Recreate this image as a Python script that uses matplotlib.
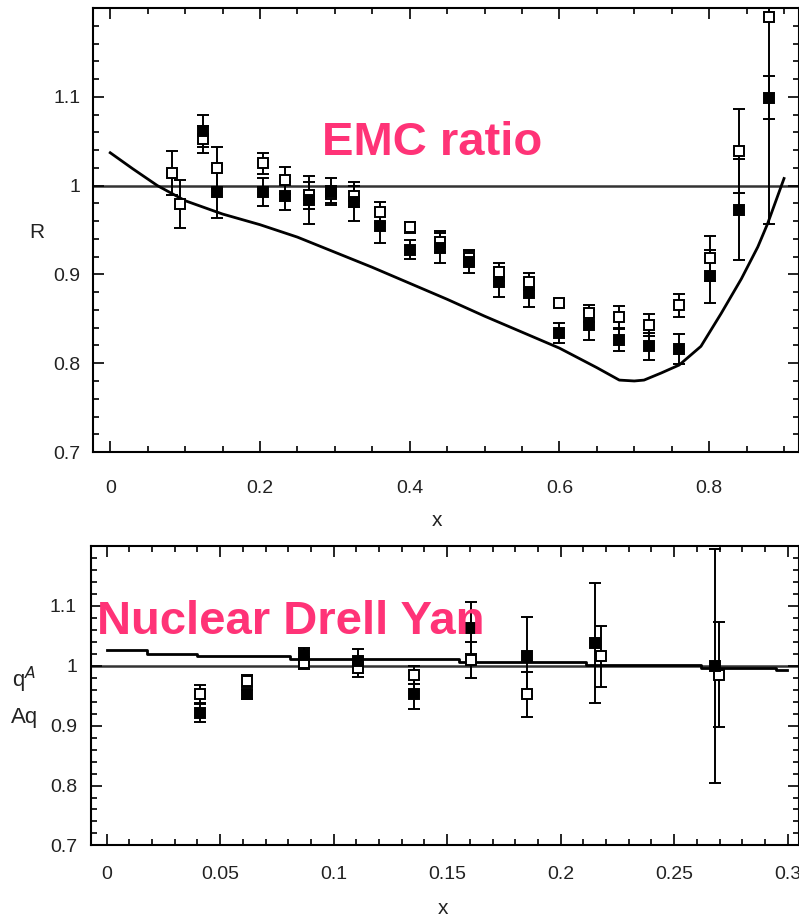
import matplotlib
matplotlib.use("Agg")
import matplotlib.pyplot as plt
from matplotlib.ticker import MultipleLocator, FixedLocator

plt.rcParams['font.family'] = ['Liberation Sans', 'DejaVu Sans']

PINK = '#ff3377'

# EMC ratio: open squares
emc_open_x = [0.082, 0.093, 0.124, 0.143, 0.2045, 0.234, 0.265, 0.295, 0.325, 0.360,
              0.400, 0.440, 0.479, 0.519, 0.559, 0.600, 0.640, 0.680, 0.720, 0.760,
              0.801, 0.840, 0.880]
emc_open_y = [1.014, 0.979, 1.052, 1.020, 1.025, 1.006, 0.989, 0.990, 0.988, 0.970,
              0.953, 0.937, 0.919, 0.903, 0.892, 0.868, 0.856, 0.852, 0.843, 0.865,
              0.918, 1.039, 1.190]
emc_open_err = [0.025, 0.027, 0.015, 0.024, 0.012, 0.015, 0.015, 0.010, 0.012, 0.012,
                0.006, 0.012, 0.008, 0.010, 0.010, 0.004, 0.010, 0.012, 0.012, 0.013,
                0.025, 0.047, 0.233]

# EMC ratio: filled squares
emc_fill_x = [0.124, 0.143, 0.2045, 0.234, 0.265, 0.295, 0.325, 0.360, 0.400, 0.440,
              0.479, 0.519, 0.559, 0.600, 0.640, 0.680, 0.720, 0.760, 0.801, 0.840,
              0.880]
emc_fill_y = [1.061, 0.993, 0.993, 0.988, 0.984, 0.993, 0.982, 0.955, 0.928, 0.930,
              0.914, 0.891, 0.879, 0.834, 0.843, 0.826, 0.819, 0.816, 0.898, 0.973,
              1.099]
emc_fill_err = [0.018, 0.030, 0.016, 0.016, 0.027, 0.015, 0.022, 0.020, 0.011, 0.017,
                0.012, 0.017, 0.016, 0.011, 0.017, 0.012, 0.015, 0.017, 0.030, 0.057,
                0.024]

# EMC model curve
emc_curve_x = [0.0, 0.03, 0.063, 0.1, 0.15, 0.2, 0.25, 0.3, 0.35, 0.4, 0.45, 0.5,
               0.55, 0.6, 0.65, 0.68, 0.70, 0.713, 0.736, 0.76, 0.789, 0.816,
               0.843, 0.865, 0.878, 0.9]
emc_curve_y = [1.037, 1.019, 1.000, 0.983, 0.968, 0.956, 0.942, 0.925, 0.908, 0.890,
               0.872, 0.853, 0.835, 0.817, 0.795, 0.781, 0.780, 0.781, 0.789, 0.798,
               0.819, 0.856, 0.895, 0.931, 0.957, 1.008]

# Drell-Yan: open squares
dy_open_x = [0.0412, 0.062, 0.0868, 0.1106, 0.1353, 0.1603, 0.1853, 0.2177, 0.2699]
dy_open_y = [0.952, 0.974, 1.004, 0.996, 0.984, 1.010, 0.952, 1.0155, 0.985]
dy_open_err = [0.015, 0.010, 0.010, 0.015, 0.015, 0.030, 0.038, 0.051, 0.088]

# Drell-Yan: filled squares
dy_fill_x = [0.0412, 0.062, 0.0868, 0.1106, 0.1353, 0.1603, 0.1853, 0.2152, 0.2681]
dy_fill_y = [0.921, 0.952, 1.018, 1.007, 0.952, 1.063, 1.0155, 1.038, 1.000]
dy_fill_err = [0.015, 0.008, 0.012, 0.020, 0.025, 0.043, 0.066, 0.100, 0.195]

# Drell-Yan model (step-like)
dy_curve_x = [0.0, 0.0176, 0.0176, 0.0397, 0.0397, 0.0809, 0.0809, 0.155, 0.155,
              0.211, 0.211, 0.262, 0.262, 0.295, 0.295, 0.2995]
dy_curve_y = [1.0255, 1.0255, 1.020, 1.020, 1.0155, 1.0155, 1.011, 1.011, 1.006,
              1.006, 1.001, 1.001, 0.996, 0.996, 0.992, 0.992]

y_major = [0.7, 0.8, 0.9, 1.0, 1.1]


def style_axes(ax, xmajor, xminor, xpad, ypad):
    ax.xaxis.set_major_locator(MultipleLocator(xmajor))
    ax.xaxis.set_minor_locator(MultipleLocator(xminor))
    ax.yaxis.set_major_locator(FixedLocator(y_major))
    ax.yaxis.set_minor_locator(MultipleLocator(0.02))
    ax.tick_params(which='both', direction='in', top=True, right=True,
                   colors='black', labelcolor='#222222', labelsize=14, width=1.2)
    ax.tick_params(which='major', length=8)
    ax.tick_params(which='minor', length=4)
    ax.tick_params(axis='x', pad=xpad)
    ax.tick_params(axis='y', pad=ypad)
    ax.yaxis.set_major_formatter(plt.FuncFormatter(lambda v, p: f"{v:g}"))
    ax.xaxis.set_major_formatter(plt.FuncFormatter(lambda v, p: f"{v:g}"))
    for s in ax.spines.values():
        s.set_linewidth(1.5)
    ax.axhline(1.0, color='#333333', lw=1.8, zorder=1)


def draw_points(ax, x, y, err, filled):
    ax.errorbar(x, y, yerr=err, fmt='s', ms=7,
                mfc='black' if filled else 'white', mec='black', mew=1.4,
                ecolor='black', elinewidth=1.4, capsize=4, capthick=1.4, zorder=3)


fig = plt.figure(figsize=(7.99, 9.18), dpi=100)

# top panel: EMC ratio
ax1 = fig.add_axes([0.1164, 0.5076, 0.8836, 0.4837])
style_axes(ax1, 0.2, 0.05, 20, 9)
ax1.set_xlim(-0.023, 0.920)
ax1.set_ylim(0.7, 1.2)
ax1.plot(emc_curve_x, emc_curve_y, color='black', lw=2, zorder=2)
draw_points(ax1, emc_open_x, emc_open_y, emc_open_err, False)
draw_points(ax1, emc_fill_x, emc_fill_y, emc_fill_err, True)

# bottom panel: nuclear Drell-Yan
ax2 = fig.add_axes([0.1139, 0.0790, 0.8861, 0.3266])
style_axes(ax2, 0.05, 0.01, 15, 10)
ax2.set_xlim(-0.0069, 0.305)
ax2.set_ylim(0.7, 1.2)
ax2.plot(dy_curve_x, dy_curve_y, color='black', lw=2, zorder=2)
draw_points(ax2, dy_open_x, dy_open_y, dy_open_err, False)
draw_points(ax2, dy_fill_x, dy_fill_y, dy_fill_err, True)

# pink annotations
fig.text(432 / 799, 1 - 143 / 918, 'EMC ratio', color=PINK, fontsize=34,
         fontweight='bold', ha='center', va='center', zorder=5)
fig.text(97 / 799, 1 - 622 / 918, 'Nuclear Drell Yan', color=PINK, fontsize=34,
         fontweight='bold', ha='left', va='center', zorder=5)

# axis labels placed as in the original
fig.text(37 / 799, 1 - 232 / 918, 'R', fontsize=15, color='#222222', ha='center', va='center')
fig.text(437 / 799, 1 - 520 / 918, 'x', fontsize=15, color='#222222', ha='center', va='center')
fig.text(443 / 799, 1 - 908 / 918, 'x', fontsize=15, color='#222222', ha='center', va='center')
fig.text(24 / 799, 1 - 680 / 918, 'q$^{A}$', fontsize=16, color='#222222', ha='center', va='center')
fig.text(25 / 799, 1 - 717 / 918, 'Aq', fontsize=16, color='#222222', ha='center', va='center')

fig.savefig('out.png', dpi=100)
